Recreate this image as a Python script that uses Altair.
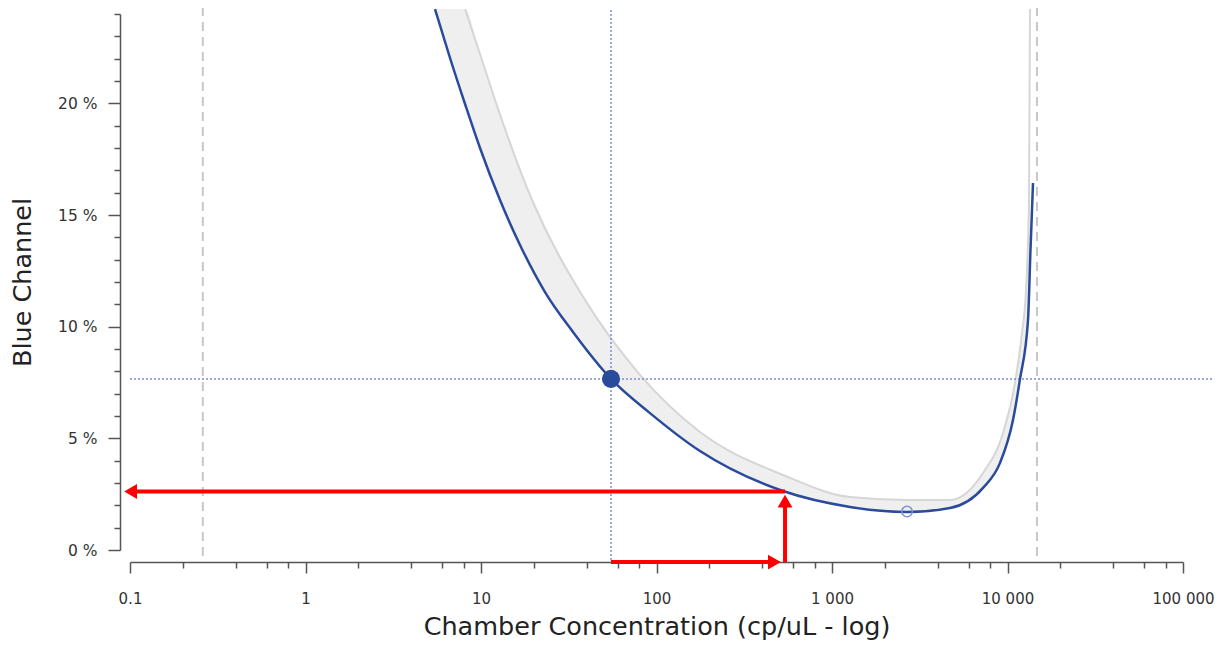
import altair as alt
import pandas as pd

# ---------------- data ----------------
# blue precision curve: chamber concentration (cp/uL) vs Blue channel (%)
curve_x = [5.47, 6.66, 8.11, 9.87, 12.83, 16.68, 23.16, 33.43, 55.05, 91.8, 177.0,
           525.9, 1266.5, 2676, 4703, 7253, 9065, 10747, 11783, 13087, 13520, 13974]
curve_y = [24.22, 22.03, 19.97, 18.00, 15.67, 13.66, 11.55, 9.76, 7.66, 6.13, 4.43,
           2.64, 1.93, 1.70, 1.88, 2.78, 3.90, 5.82, 7.66, 10.30, 13.43, 16.43]

# grey confidence band (lower edge = curve, upper edge = grey line)
band_x = [5.47, 6.66, 8.11, 9.87, 12.83, 16.68, 23.16, 33.43, 55.05, 91.8, 177.0,
          525.9, 1266.5, 2676, 4703, 7253, 9065, 10747, 11783, 12584, 13087, 13435]
band_lo = [24.22, 22.03, 19.97, 18.00, 15.67, 13.66, 11.55, 9.76, 7.66, 6.13, 4.43,
           2.64, 1.93, 1.70, 1.88, 2.78, 3.90, 5.82, 7.66, 9.31, 10.30, 12.81]
band_hi = [24.22, 24.22, 24.22, 22.21, 19.57, 17.10, 14.55, 12.18, 9.58, 7.39, 5.28,
           3.36, 2.37, 2.24, 2.24, 3.45, 4.93, 7.07, 9.04, 11.19, 14.33, 24.22]

# grey upper edge line
edge_x = [8.11, 9.87, 12.02, 19.53, 39.14, 80.5, 177.0, 525.9, 1266.5, 2676, 4703,
          7253, 9428, 11032, 12092, 12750, 13260, 13435]
edge_y = [24.22, 22.21, 20.15, 15.67, 11.19, 7.84, 5.28, 3.36, 2.37, 2.24, 2.24,
          3.45, 5.24, 7.48, 9.72, 11.64, 15.67, 24.22]

# limits of detection (dashed grey verticals)
lod_x = [0.26, 14720]
lod_top = 24.27
lod_bottom = -0.27

# selected point and its crosshair
sel_x = 55.05
sel_y = 7.66
cross_x_end = 146300
cross_y_bottom = -0.45

# minimum of the curve (open circle)
min_x = 2676
min_y = 1.72

# red arrows: line from (x1, y1) to (x2, y2) with an arrowhead at (hx, hy)
arrow_x1 = [540, 540, 55.05]
arrow_x2 = [0.1008, 540, 469.7]
arrow_y1 = [2.62, -0.54, -0.54]
arrow_y2 = [2.62, 2.19, -0.54]
arrow_hx = [0.1008, 540, 469.7]
arrow_hy = [2.62, 2.19, -0.54]
arrow_shape = ["triangle-left", "triangle-up", "triangle-right"]

# axes
x_major = [0.1, 1, 10, 100, 1000, 10000, 100000]
x_minor = [m * d for d in [0.1, 1, 10, 100, 1000, 10000] for m in [2, 4, 6, 8]]
y_major = [0, 5, 10, 15, 20]
y_minor = [v for v in range(0, 25) if v % 5 != 0]

FONT = "DejaVu Sans"
BLUE = "#2a4b9b"
RED = "#ff0000"
AXIS = "#555555"

xscale = alt.Scale(type="log", domain=[0.1, 100000], nice=False)
yscale = alt.Scale(domain=[0, 24], nice=False, zero=False)


def X(f):
    return alt.X(f, type="quantitative", scale=xscale, axis=None)


def Y(f):
    return alt.Y(f, type="quantitative", scale=yscale, axis=None)


curve_df = pd.DataFrame({"x": curve_x, "y": curve_y})
band_df = pd.DataFrame({"x": band_x, "lo": band_lo, "hi": band_hi})
edge_df = pd.DataFrame({"x": edge_x, "y": edge_y})
lod_df = pd.DataFrame({"x": lod_x, "y1": [lod_bottom] * 2, "y2": [lod_top] * 2})
cross_v_df = pd.DataFrame({"x": [sel_x], "y1": [cross_y_bottom], "y2": [lod_top]})
cross_h_df = pd.DataFrame({"x1": [x_major[0]], "x2": [cross_x_end], "y": [sel_y]})
sel_df = pd.DataFrame({"x": [sel_x], "y": [sel_y]})
min_df = pd.DataFrame({"x": [min_x], "y": [min_y]})
arrow_df = pd.DataFrame({"x1": arrow_x1, "x2": arrow_x2, "y1": arrow_y1, "y2": arrow_y2})
head_df = pd.DataFrame({"x": arrow_hx, "y": arrow_hy, "shape": arrow_shape})
dummy = pd.DataFrame({"x": [1.0], "y": [1.0]})

axis_main = alt.Chart(dummy).mark_point(opacity=0).encode(
    x=alt.X("x:Q", scale=xscale, axis=alt.Axis(
        values=x_major, orient="bottom", offset=12, grid=False,
        labelExpr="replace(format(datum.value, ','), ',', ' ')",
        tickSize=11, tickWidth=1.5, tickColor=AXIS, domainColor=AXIS, domainWidth=1.5,
        labelFont=FONT, labelFontSize=15, labelColor="#333", labelPadding=18,
        labelFlush=False,
        title="Chamber Concentration (cp/uL - log)", titleFont=FONT, titleFontSize=25.5,
        titleFontWeight="normal", titleColor="#222", titlePadding=8)),
    y=alt.Y("y:Q", scale=yscale, axis=alt.Axis(
        values=y_major, orient="left", offset=10, grid=False,
        labelExpr="datum.value + ' %'",
        tickSize=12, tickWidth=1.5, tickColor=AXIS, domainColor=AXIS, domainWidth=1.5,
        labelFont=FONT, labelFontSize=15.5, labelColor="#333", labelPadding=11,
        title="Blue Channel", titleFont=FONT, titleFontSize=25.5,
        titleFontWeight="normal", titleColor="#222", titlePadding=22)),
)

axis_minor = alt.Chart(dummy).mark_point(opacity=0).encode(
    x=alt.X("x:Q", scale=xscale, axis=alt.Axis(
        values=x_minor, orient="bottom", offset=12, grid=False, labels=False, domain=False,
        tickSize=6, tickWidth=1.5, tickColor=AXIS, title=None)),
    y=alt.Y("y:Q", scale=yscale, axis=alt.Axis(
        values=y_minor, orient="left", offset=10, grid=False, labels=False, domain=False,
        tickSize=6, tickWidth=1.5, tickColor=AXIS, title=None)),
)

band = alt.Chart(band_df).mark_area(color="#efefef", interpolate="monotone", clip=False).encode(
    x=X("x"), y=Y("hi"), y2="lo")

edge = alt.Chart(edge_df).mark_line(color="#d6d6d6", strokeWidth=2, interpolate="monotone",
                                    clip=False).encode(x=X("x"), y=Y("y"))

lod = alt.Chart(lod_df).mark_rule(color="#c8c8c8", strokeWidth=2, strokeDash=[9, 6]).encode(
    x=X("x"), y=Y("y1"), y2="y2")

cross_v = alt.Chart(cross_v_df).mark_rule(color="#7c8fd0", strokeWidth=1.5, strokeDash=[2, 2]).encode(
    x=X("x"), y=Y("y1"), y2="y2")
cross_h = alt.Chart(cross_h_df).mark_rule(color="#7c8fd0", strokeWidth=1.5, strokeDash=[2, 2]).encode(
    x=X("x1"), x2="x2", y=Y("y"))

curve = alt.Chart(curve_df).mark_line(color=BLUE, strokeWidth=2.5, interpolate="monotone",
                                      clip=False).encode(x=X("x"), y=Y("y"))

arrows = alt.Chart(arrow_df).mark_rule(color=RED, strokeWidth=4).encode(
    x=X("x1"), x2="x2", y=Y("y1"), y2="y2")
heads = alt.Chart(head_df).mark_point(filled=True, color=RED, opacity=1, size=220).encode(
    x=X("x"), y=Y("y"), shape=alt.Shape("shape:N", scale=None))

sel = alt.Chart(sel_df).mark_point(filled=True, color=BLUE, opacity=1, size=330).encode(
    x=X("x"), y=Y("y"))
mn = alt.Chart(min_df).mark_point(filled=False, color="#8092cf", strokeWidth=1.5, size=110,
                                  opacity=1).encode(x=X("x"), y=Y("y"))

chart = alt.layer(
    axis_main, axis_minor, band, edge, lod, cross_v, cross_h, curve, arrows, heads, sel, mn
).resolve_axis(x="independent", y="independent").properties(
    width=1053, height=536,
    autosize=alt.AutoSizeParams(type="none"),
    padding={"left": 122, "top": 6, "right": 32, "bottom": 90},
    background="white",
).configure_view(stroke=None)

chart.save("out.html", embed_options={"renderer": "svg", "actions": False})
